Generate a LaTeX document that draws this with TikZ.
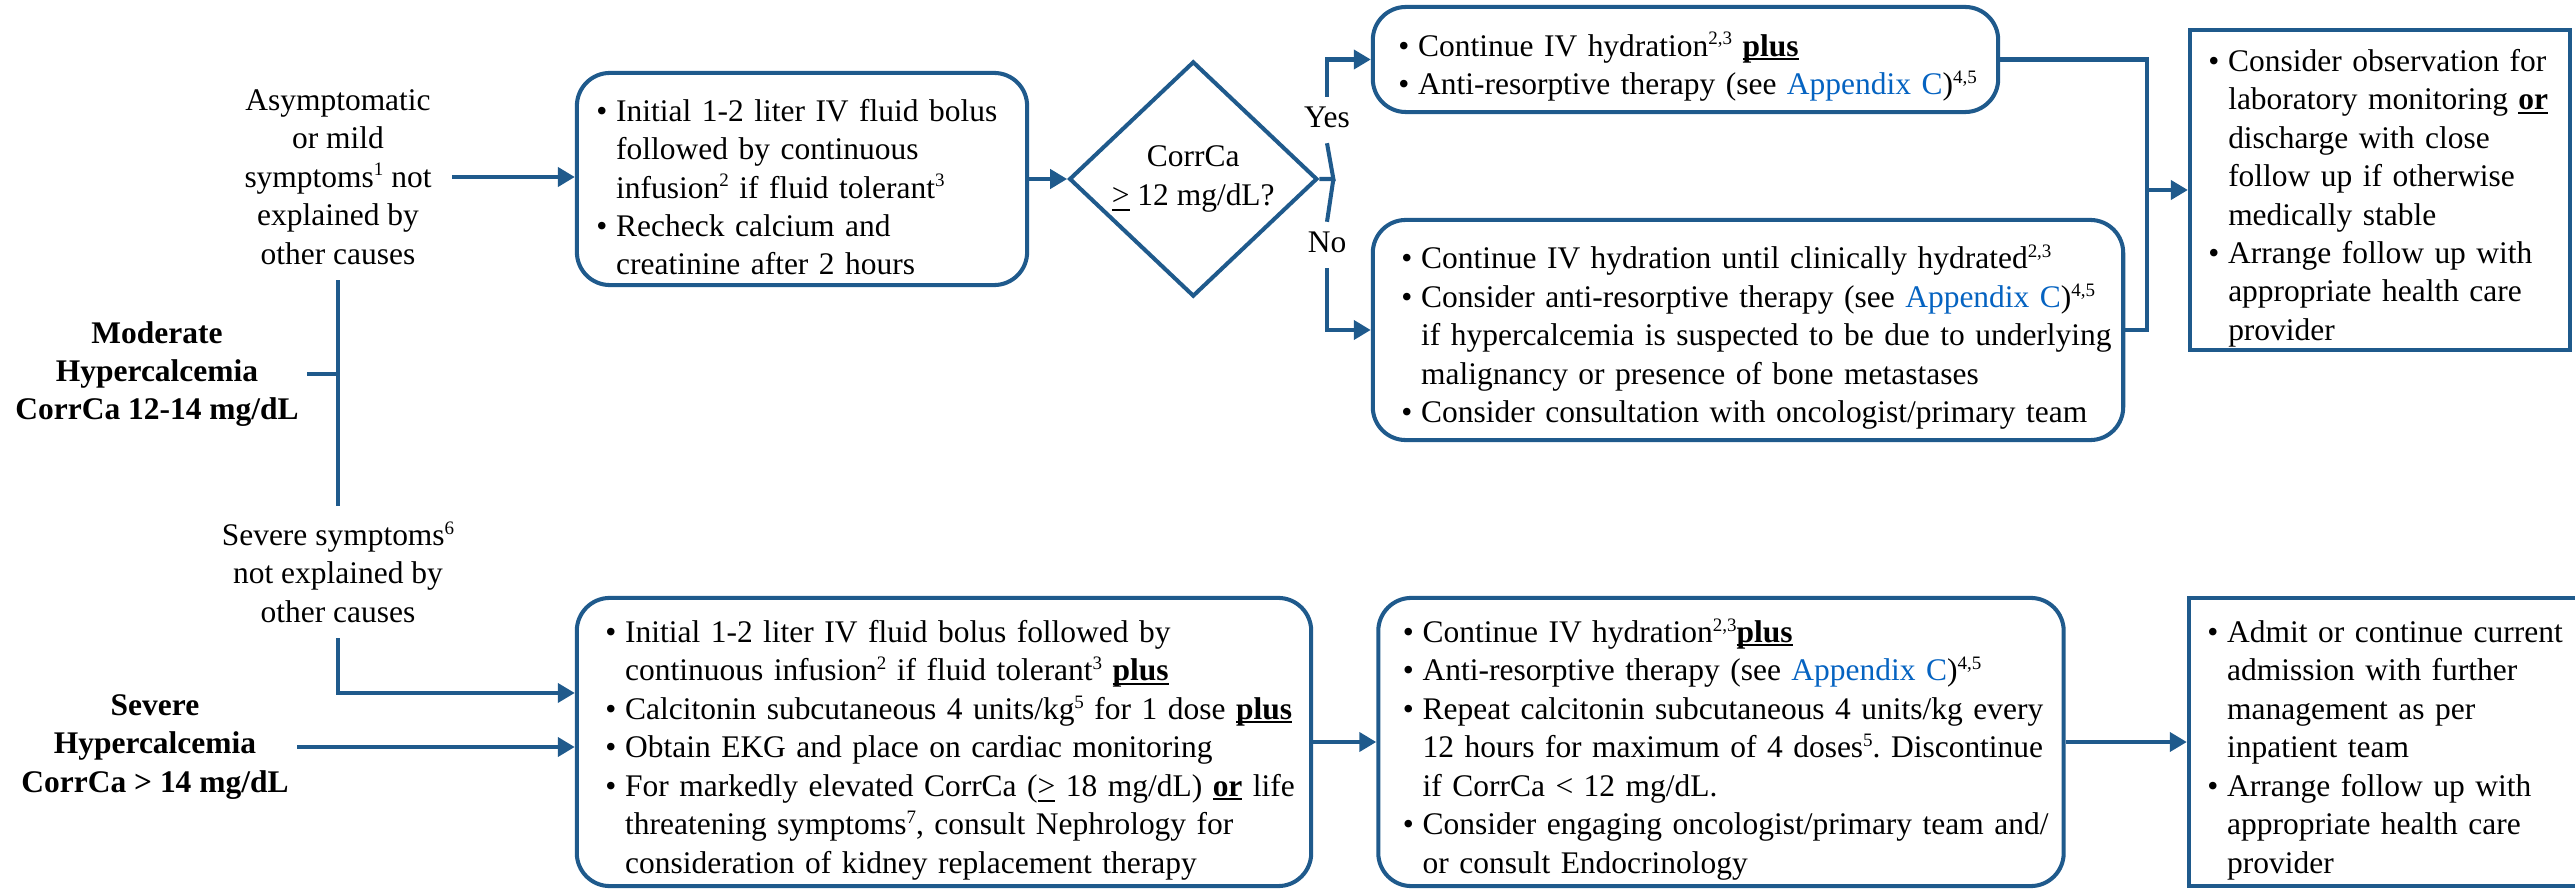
\documentclass[tikz,border=0pt]{standalone}
\usepackage{fontspec}
\setmainfont{Liberation Serif}
\usetikzlibrary{positioning,shapes.geometric,arrows.meta}
\frenchspacing

\definecolor{flowblue}{RGB}{31,90,140}
\definecolor{linkblue}{RGB}{5,99,193}

\newcommand{\bitem}[1]{\par\noindent\makebox[0.63em][l]{\textbullet}\mbox{#1}}
\newcommand{\bcont}[1]{\par\noindent\hspace*{0.63em}\mbox{#1}}
\newcommand{\kw}[1]{\textbf{\setbox0\hbox{#1}\rlap{\rule[-0.12em]{\wd0}{0.06em}}\box0}}
\newcommand{\apx}{\textcolor{linkblue}{Appendix C}}
\newcommand{\fnote}[1]{\raisebox{0.36em}{\fontsize{5.4}{6}\selectfont #1}}

\begin{document}
\begin{tikzpicture}[x=0.01cm, y=-0.01cm,
                    font=\fontsize{8.95}{10.93}\selectfont,
                    carenode/.style={draw=flowblue, line width=1.15pt, rounded corners=0.33cm, align=left, inner ysep=0pt},
                    endnode/.style={carenode, sharp corners},
                    decnode/.style={diamond, draw=flowblue, line width=1.15pt, align=center, inner sep=0pt, minimum width=2.48cm, minimum height=2.35cm},
                    causenode/.style={align=center, inner xsep=0.2cm, inner ysep=0.15cm},
                    gradenode/.style={align=center, font=\fontsize{8.95}{10.93}\selectfont\bfseries, inner xsep=0.08cm},
                    branchnode/.style={inner ysep=0.08cm, text height=0.22cm, text depth=0.07cm},
                    link/.style={draw=flowblue, line width=1.15pt},
                    arrow/.style={link, -{Triangle[length=0.17cm, width=0.19cm]}},
                ]
                    \useasboundingbox (0,0) rectangle (2575,891);

                    %Nodes
                    \node[causenode](asym) at (338,177) {Asymptomatic\\or mild\\symptoms\fnote{1} not\\explained by\\other causes};
                    \node[gradenode](moderate) at (157,374) {Moderate\\Hypercalcemia\\CorrCa 12-14 mg/dL};
                    \node[causenode](sevsym) at (338,572) {Severe symptoms\fnote{6}\\not explained by\\other causes};
                    \node[gradenode](severe) at (155,747) {Severe\\Hypercalcemia\\CorrCa > 14 mg/dL};

                    \node[carenode, text width=4.11cm, inner xsep=0.195cm, minimum height=2.12cm](fluid) at (802,179) {
                        \bitem{Initial 1-2 liter IV fluid bolus}
                        \bcont{followed by continuous}
                        \bcont{infusion\fnote{2} if fluid tolerant\fnote{3}}
                        \bitem{Recheck calcium and}
                        \bcont{creatinine after 2 hours}};
                    \node[decnode, right=0.38cm of fluid](check) {CorrCa\\\underline{>} 12 mg/dL?};
                    \coordinate[right=0.14cm of check.east] (split);
                    \node[branchnode](ylbl) at (1327,120) {Yes};
                    \node[branchnode](nlbl) at (1327,245) {No};

                    \node[carenode, text width=5.74cm, inner xsep=0.255cm, minimum height=1.05cm](contyes) at (1685.5,59.5) {
                        \bitem{Continue IV hydration\fnote{2,3} \kw{plus}}
                        \bitem{Anti-resorptive therapy (see \apx)\fnote{4,5}}};
                    \node[carenode, text width=6.93cm, inner xsep=0.285cm, minimum height=2.2cm](contno) at (1748,330) {
                        \bitem{Continue IV hydration until clinically hydrated\fnote{2,3}}
                        \bitem{Consider anti-resorptive therapy (see \apx)\fnote{4,5}}
                        \bcont{if hypercalcemia is suspected to be due to underlying}
                        \bcont{malignancy or presence of bone metastases}
                        \bitem{Consider consultation with oncologist/primary team}};
                    \node[endnode, text width=3.43cm, inner xsep=0.185cm, minimum height=3.2cm](observe) at (2380,190) {
                        \bitem{Consider observation for}
                        \bcont{laboratory monitoring \kw{or}}
                        \bcont{discharge with close}
                        \bcont{follow up if otherwise}
                        \bcont{medically stable}
                        \bitem{Arrange follow up with}
                        \bcont{appropriate health care}
                        \bcont{provider}};
                    \coordinate[left=0.41cm of observe.west] (merge);

                    \node[carenode, text width=6.77cm, inner xsep=0.285cm, minimum height=2.88cm](sevfluid) at (944,742) {
                        \bitem{Initial 1-2 liter IV fluid bolus followed by}
                        \bcont{continuous infusion\fnote{2} if fluid tolerant\fnote{3} \kw{plus}}
                        \bitem{Calcitonin subcutaneous 4 units/kg\fnote{5} for 1 dose \kw{plus}}
                        \bitem{Obtain EKG and place on cardiac monitoring}
                        \bitem{For markedly elevated CorrCa (\underline{>} 18 mg/dL) \kw{or} life}
                        \bcont{threatening symptoms\fnote{7}, consult Nephrology for}
                        \bcont{consideration of kidney replacement therapy}};
                    \node[carenode, text width=6.36cm, inner xsep=0.245cm, minimum height=2.88cm, right=0.63cm of sevfluid](repeat) {
                        \bitem{Continue IV hydration\fnote{2,3}\kw{plus}}
                        \bitem{Anti-resorptive therapy (see \apx)\fnote{4,5}}
                        \bitem{Repeat calcitonin subcutaneous 4 units/kg every}
                        \bcont{12 hours for maximum of 4 doses\fnote{5}. Discontinue}
                        \bcont{if CorrCa < 12 mg/dL.}
                        \bitem{Consider engaging oncologist/primary team and/}
                        \bcont{or consult Endocrinology}};
                    \node[endnode, text width=3.53cm, inner xsep=0.185cm, minimum height=2.88cm, right=1.21cm of repeat](admit) {
                        \bitem{Admit or continue current}
                        \bcont{admission with further}
                        \bcont{management as per}
                        \bcont{inpatient team}
                        \bitem{Arrange follow up with}
                        \bcont{appropriate health care}
                        \bcont{provider}};

                    %Lines
                    \draw[arrow] (asym.east) -- (asym.east -| fluid.west);
                    \draw[link] (asym.south) -- (sevsym.north);
                    \draw[link] (moderate.east) -- (moderate.east -| asym.south);
                    \draw[arrow] (sevsym.south) |- ([yshift=0.49cm]sevfluid.west);
                    \draw[arrow] (severe.east) -- (severe.east -| sevfluid.west);
                    \draw[arrow] (fluid.east) -- (check.west);
                    \draw[link] (check.east) -- (split) -- (ylbl.south);
                    \draw[link] (split) -- (nlbl.north);
                    \draw[arrow] (ylbl.north) |- (contyes.west);
                    \draw[arrow] (nlbl.south) |- (contno.west);
                    \draw[link] (contyes.east) -| (merge);
                    \draw[link] (contno.east) -| (merge);
                    \draw[arrow] (merge) -- (observe.west);
                    \draw[arrow] (sevfluid.east) -- (repeat.west);
                    \draw[arrow] (repeat.east) -- (admit.west);
                \end{tikzpicture}
\end{document}
